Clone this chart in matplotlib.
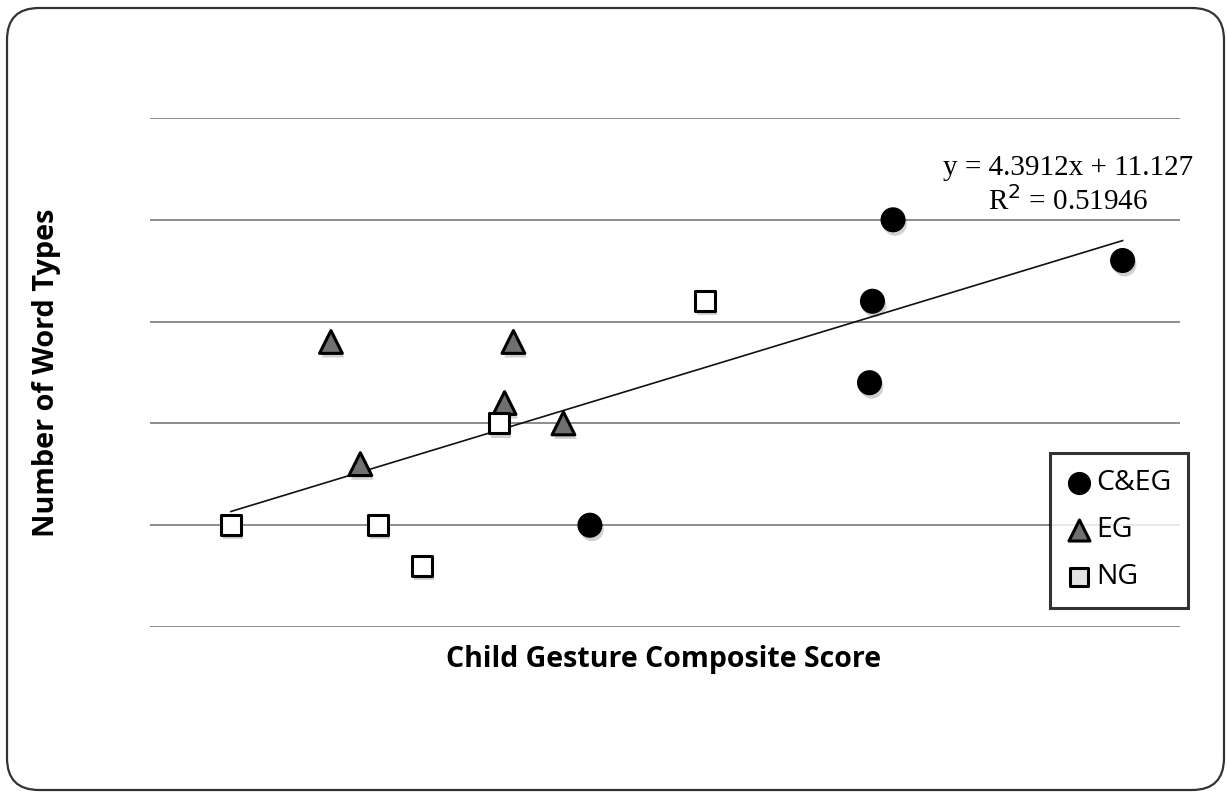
import matplotlib.pyplot as plt
import matplotlib.patheffects as pe
from matplotlib.patches import FancyBboxPatch
import numpy as np

# gesture composite score (x) vs number of word types (y) per group
ceg_x = [4.55, 6.11, 4.41, 4.39, 2.49]
ceg_y = [40, 36, 32, 24, 10]
eg_x = [0.73, 1.97, 1.91, 2.31, 0.93]
eg_y = [28, 28, 22, 20, 16]
ng_x = [3.27, 1.87, 0.05, 1.05, 1.35]
ng_y = [32, 20, 10, 10, 6]

slope, intercept = 4.3912, 11.127
r2 = 0.51946

W, H = 1227, 794
fig = plt.figure(figsize=(W / 100, H / 100), dpi=100)
ax = fig.add_axes([0.1222, 0.2103, 0.8395, 0.6411])

# rounded outer frame
frame = FancyBboxPatch((0.07, 0.04), 12.17, 7.82, boxstyle="round,pad=0,rounding_size=0.32",
                       transform=fig.dpi_scale_trans, facecolor='none', edgecolor='#333333',
                       linewidth=1.6, zorder=0)
fig.patches.append(frame)

ax.set_xlim(-0.5, 6.5)
ax.set_ylim(0, 50)
for yv in range(0, 51, 10):
    ax.axhline(yv, color='#8c8c8c', linewidth=1.4, zorder=1)
for s in ax.spines.values():
    s.set_visible(False)
ax.set_xticks([])
ax.set_yticks([])

shadow = [pe.SimplePatchShadow(offset=(1.5, -3), shadow_rgbFace='k', alpha=0.18), pe.Normal()]

all_x = ceg_x + eg_x + ng_x
xs = np.array([min(all_x), max(all_x)])
ax.plot(xs, slope * xs + intercept, color='#111111', linewidth=1.2, zorder=2)

ax.scatter(ceg_x, ceg_y, s=290, marker='o', color='black', zorder=4,
           path_effects=shadow, label='C&EG')
ax.scatter(eg_x, eg_y, s=270, marker='^', facecolor='#707070', edgecolor='black',
           linewidth=2.2, zorder=3, path_effects=shadow, label='EG')
ax.scatter(ng_x, ng_y, s=210, marker='s', facecolor='white', edgecolor='black',
           linewidth=2.2, zorder=3, path_effects=shadow, label='NG')

# regression equation
fig.text(1068 / W, 1 - 168 / H, f"y = {slope}x + {intercept}", ha='center', va='center',
         fontsize=21, family='Liberation Serif')
fig.text(1068 / W, 1 - 201 / H, f"R$^2$ = {r2}", ha='center', va='center',
         fontsize=21, family='Liberation Serif')

leg = ax.legend(loc='upper left', bbox_to_anchor=(0.874, 0.342), frameon=True, fancybox=False,
                edgecolor='black', prop={'family': 'Open Sans', 'size': 20.5},
                borderpad=0.58, labelspacing=0.66, handletextpad=0.2, handlelength=0.85,
                markerscale=0.92, borderaxespad=0)
leg.get_frame().set_linewidth(2.2)
leg.legend_handles[2].set_facecolor('#e4e4e4')
for h in leg.legend_handles:
    h.set_path_effects([])

ax.set_xlabel('Child Gesture Composite Score', fontsize=20.5, fontweight='bold',
              family='Open Sans', va='top')
ax.xaxis.set_label_coords(0.4985, -0.036)
ax.set_ylabel('Number of Word Types', fontsize=20.8, fontweight='bold',
              family='Open Sans')
ax.yaxis.set_label_coords(-0.086, 0.5)

fig.savefig('out.png', dpi=100)
